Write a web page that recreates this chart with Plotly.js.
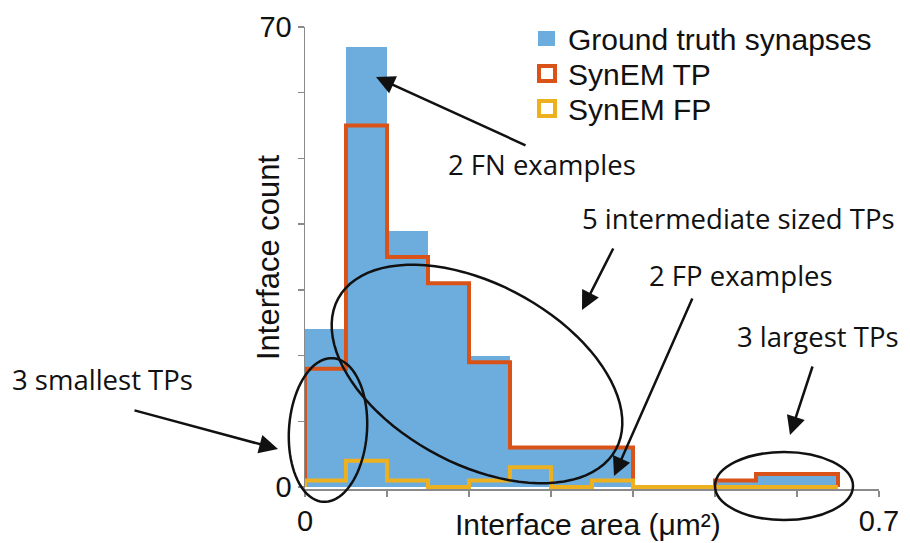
<!DOCTYPE html>
<html>
<head>
<meta charset="utf-8">
<script src="https://cdn.plot.ly/plotly-3.0.1.min.js"></script>
<style>html,body{margin:0;padding:0;background:#fff;}#chart{width:910px;height:543px;}</style>
</head>
<body>
<div id="chart"></div>
<script>
// ---- data ----
const binEdges = [0, 0.05, 0.1, 0.15, 0.2, 0.25, 0.3, 0.35, 0.4, 0.45, 0.5, 0.55, 0.6, 0.65];
const gtCounts = [24, 67, 39, 31, 20, 6, 6, 6, 0, 0, 1, 2, 2];
const tpCounts = [18, 55, 35, 31, 19, 6, 6, 6, 0, 0, 1, 2, 2];
const fpCounts = [1, 4, 1, 0, 1, 3, 0, 1, 0, 0, 0, 0, 0];
const seriesNames = ['Ground truth synapses', 'SynEM TP', 'SynEM FP'];
const xTickVals = [0, 0.1, 0.2, 0.3, 0.4, 0.5, 0.6, 0.7];
const xTickText = ['0', '', '', '', '', '', '', '0.7'];
const yTickVals = [0, 10, 20, 30, 40, 50, 60, 70];
const yTickText = ['0', '', '', '', '', '', '', '70'];
const xTitle = 'Interface area (μm²)';
const yTitle = 'Interface count';
const noteTexts = ['2 FN examples', '5 intermediate sized TPs', '2 FP examples', '3 largest TPs', '3 smallest TPs'];

// ---- styling ----
const BLUE = 'rgb(108,173,222)';
const RED = 'rgb(217,83,25)';
const YELLOW = 'rgb(237,177,32)';
const W = 910, H = 543;
const L = 305, R = 879, T = 27, B = 489;
const px = v => (v - L) / (R - L);
const py = v => (B - v) / (B - T);

const centers = binEdges.slice(0, -1).map((e, i) => (e + binEdges[i + 1]) / 2);
const widths = binEdges.slice(0, -1).map((e, i) => binEdges[i + 1] - e);

function stepTrace(counts, color, name) {
  const xs = [binEdges[0]].concat(binEdges.slice(0, -1), [binEdges[binEdges.length - 1]]);
  const ys = [0].concat(counts, [0]);
  return {
    type: 'scatter', mode: 'lines', name: name, x: xs, y: ys,
    line: {shape: 'hv', color: color, width: 4}, showlegend: false, hoverinfo: 'skip'
  };
}

const traces = [
  {type: 'bar', name: seriesNames[0], x: centers, y: gtCounts, width: widths,
   marker: {color: BLUE, line: {width: 0}}, showlegend: false},
  stepTrace(tpCounts, RED, seriesNames[1]),
  stepTrace(fpCounts, YELLOW, seriesNames[2])
];

// ellipse outline (pixel geometry -> paper coords)
function ellipse(cx, cy, a, b, deg) {
  const th = deg * Math.PI / 180, n = 90;
  let d = '';
  for (let i = 0; i <= n; i++) {
    const t = 2 * Math.PI * i / n;
    const x = cx + a * Math.cos(t) * Math.cos(th) - b * Math.sin(t) * Math.sin(th);
    const y = cy + a * Math.cos(t) * Math.sin(th) + b * Math.sin(t) * Math.cos(th);
    d += (i === 0 ? 'M' : 'L') + px(x).toFixed(5) + ',' + py(y).toFixed(5);
  }
  return {type: 'path', xref: 'paper', yref: 'paper', path: d + 'Z', line: {color: '#111', width: 2.5}};
}

// legend rows (pixel centres)
const legRows = [38.5, 73.5, 108.5];

const shapes = [
  ellipse(477, 374, 158, 90, 28.5),
  ellipse(328, 430, 72, 39, 94),
  {type: 'circle', xref: 'paper', yref: 'paper', x0: px(715), x1: px(853), y0: py(520), y1: py(452), line: {color: '#111', width: 2.5}},
  // legend swatches
  {type: 'rect', xref: 'paper', yref: 'paper', x0: px(538), x1: px(555), y0: py(legRows[0] + 7.5), y1: py(legRows[0] - 7.5), fillcolor: BLUE, line: {width: 0}},
  {type: 'rect', xref: 'paper', yref: 'paper', x0: px(539), x1: px(555), y0: py(legRows[1] + 7.5), y1: py(legRows[1] - 7.5), fillcolor: 'white', line: {color: RED, width: 4}},
  {type: 'rect', xref: 'paper', yref: 'paper', x0: px(539), x1: px(555), y0: py(legRows[2] + 7.5), y1: py(legRows[2] - 7.5), fillcolor: 'white', line: {color: YELLOW, width: 4}}
];

const noteFont = {family: 'Open Sans', size: 27.5, color: '#111'};
const legFont = {family: 'Liberation Sans, Arial', size: 30, color: '#111'};
function arrow(tipX, tipY, tailX, tailY) {
  return {xref: 'paper', yref: 'paper', x: px(tipX), y: py(tipY), ax: tailX - tipX, ay: tailY - tipY,
    text: '', showarrow: true, arrowhead: 2, arrowsize: 1.5, arrowwidth: 2.5, arrowcolor: '#111'};
}
function label(text, cx, cy, font) {
  return {xref: 'paper', yref: 'paper', x: px(cx), y: py(cy), xanchor: 'center', yanchor: 'middle',
    text: text, showarrow: false, font: font};
}
const annotations = [
  arrow(376, 77, 527, 146),
  arrow(582, 310, 614, 247),
  arrow(614, 476, 693, 297),
  arrow(790, 435, 813, 365),
  arrow(278, 449, 133, 410),
  label(noteTexts[0], 542, 164, noteFont),
  label(noteTexts[1], 738, 218, noteFont),
  label(noteTexts[2], 741, 275, noteFont),
  label(noteTexts[3], 818, 336, noteFont),
  label(noteTexts[4], 102, 379, noteFont),
  // legend texts
  {xref: 'paper', yref: 'paper', x: px(566), y: py(legRows[0] + 1), xanchor: 'left', yanchor: 'middle', text: seriesNames[0], showarrow: false, font: legFont},
  {xref: 'paper', yref: 'paper', x: px(566), y: py(legRows[1] + 1), xanchor: 'left', yanchor: 'middle', text: seriesNames[1], showarrow: false, font: legFont},
  {xref: 'paper', yref: 'paper', x: px(566), y: py(legRows[2] + 1), xanchor: 'left', yanchor: 'middle', text: seriesNames[2], showarrow: false, font: legFont},
  // axis titles
  {xref: 'paper', yref: 'paper', x: px(588), y: py(524), xanchor: 'center', yanchor: 'middle', text: xTitle, showarrow: false, font: {family: 'Liberation Sans, Arial', size: 30, color: '#111'}},
  {xref: 'paper', yref: 'paper', x: px(268), y: py(258), xanchor: 'center', yanchor: 'middle', text: yTitle, textangle: -90, showarrow: false, font: {family: 'Liberation Sans, Arial', size: 31, color: '#111'}}
];

const layout = {
  width: W, height: H,
  margin: {l: L, r: W - R, t: T, b: H - B, pad: 0},
  paper_bgcolor: 'white', plot_bgcolor: 'white',
  showlegend: false,
  bargap: 0,
  font: {family: 'Liberation Sans, Arial', color: '#111'},
  xaxis: {range: [0, 0.7], tickvals: xTickVals, ticktext: xTickText, ticks: 'outside', ticklen: 6, tickwidth: 1.5,
    tickcolor: '#8a8a8a', showline: true, linecolor: '#8a8a8a', linewidth: 1.5, showgrid: false, zeroline: false,
    tickfont: {family: 'Liberation Sans, Arial', size: 29, color: '#111'}, fixedrange: true},
  yaxis: {range: [-0.3, 70], tickvals: yTickVals, ticktext: yTickText, ticks: 'outside', ticklen: 6, tickwidth: 1.5,
    tickcolor: '#8a8a8a', showline: true, linecolor: '#8a8a8a', linewidth: 1.5, showgrid: false, zeroline: false,
    tickfont: {family: 'Liberation Sans, Arial', size: 29, color: '#111'}, fixedrange: true},
  shapes: shapes,
  annotations: annotations
};

Plotly.newPlot('chart', traces, layout, {displayModeBar: false, staticPlot: true});
</script>
</body>
</html>
